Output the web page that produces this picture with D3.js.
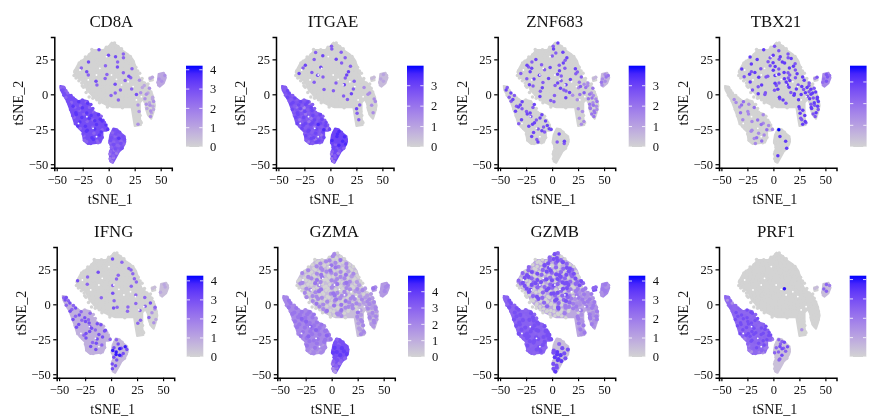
<!DOCTYPE html>
<html><head><meta charset="utf-8">
<script src="https://cdn.jsdelivr.net/npm/d3@7"></script>
<style>html,body{margin:0;background:#fff}svg{display:block;filter:blur(0.4px)}text{font-family:"Liberation Serif",serif;fill:#111}</style>
</head><body><svg id="c" width="874" height="417"></svg>
<script>
// Cell positions estimated by eye from the reference: one y per row and the x values of that row.
const cellY = [36,34,31.5,29,26.5,24,21.5,19,16.5,14,11.5,9,6.5,4,1.5,-1,-3.5,-6,-8.5,-11,-13.5,-16,-18.5,-21,
  14,11.5,9,6.5,
  5,2.5,0,-2.5,-5,-7.5,-10,-12.5,-15,-17.5,-20,-22.5,-25,-27.5,-30,-32.5,-34.5,
  -25.5,-28,-30.5,-33,-35.5,-38,-40.5,-43,-45.5,-48];
const cellX = [
  [2.4,5.6],[-2.3,1.1,4.6,8.9],[-16.2,-12.6,-9.3,-5.4,-2.1,1.4,5.2,8.4,12.3],
  [-18.6,-14.2,-10.9,-7.1,-3.8,-0.2,3.6,7.2,10.4,14.1,17.3],
  [-22.4,-17.2,-14.4,-10.3,-7.3,-3.1,0.2,3.8,6.6,10.7,14.2,17.1,20.8],
  [-26.2,-22.6,-19.4,-15.6,-12.4,-8.9,-5.1,-1.4,2.1,5.6,8.6,12.6,16.1,19.2,23.2],
  [-28.3,-24.1,-21.2,-17.1,-14.2,-10.1,-7.4,-3.1,-0.3,3.9,6.9,10.8,13.7,17.9,20.9,24.6],
  [-30.4,-26.3,-22.6,-19.6,-15.8,-12.1,-9.2,-5.3,-1.9,1.7,5.2,8.4,12.3,15.4,19.3,22.4,26.1],
  [-32.2,-28.1,-24.6,-21.1,-17.8,-14.1,-10.6,-7.2,-3.6,-0.1,3.4,7.1,10.3,14.1,17.4,21.1,24.3,27.9],
  [-33.3,-30.1,-26.4,-22.9,-19.6,-15.9,-12.2,-8.9,-5.4,-1.7,1.6,5.3,8.8,12.4,15.7,19.4,22.8,26.4,29.8],
  [-31.4,-28.1,-24.3,-20.7,-17.4,-14.1,-10.3,-7.1,-3.4,0.1,3.7,7.2,10.6,14.3,17.6,21.2,24.7,28.1,32.1],
  [-28.6,-25.9,-22.3,-18.8,-15.6,-12.2,-8.8,-5.3,-1.7,1.6,5.4,8.7,12.3,15.8,19.3,22.9,26.2,29.6,34.4],
  [-25.4,-21.8,-18.3,-14.6,-11.3,-7.8,-4.2,-0.7,2.9,6.2,9.8,13.4,16.7,20.3,23.8,27.3,30.8,34.2,37.8],
  [-24.2,-20.1,-16.4,-13.1,-9.4,-6.1,-2.6,1.1,4.3,8.1,11.3,15.1,18.4,22.1,25.4,29.1,32.4,36.1,39.2],
  [-21.7,-18.2,-14.6,-11.3,-7.7,-4.3,-0.6,2.9,6.3,9.8,13.4,16.8,20.2,23.8,27.2,30.8,34.3,37.8,40.7],
  [-18.8,-15.3,-11.7,-8.2,-4.8,-1.1,2.3,5.8,9.2,12.7,16.2,19.8,23.3,26.7,32.8,36.2,39.7,42.3],
  [-15.2,-11.4,-8.1,-4.6,-1.3,2.4,6.1,9.3,13.2,16.4,20.3,24.2,27.8,34.9,38.4,42.1],
  [-8.8,-5.3,-2.2,1.8,5.2,8.3,12.1,15.8,25.2,36.2,39.3,43.2],[-1.2,2.7,6.2,9.3,13.2,24.6,28.2,36.4,39.7,42.6],
  [25.2,28.3,36.8,40.4,43.1],[25.7,29.2,38.2,41.1],[26.3,30.2,40.2],[27.3,30.6],[28.2,31.3],
  [51,54],[40,42,48.5,52],[47.5,51],[48],
  [-45.6,-43.1],[-44.2,-41.1],[-43.1,-39.6,-36.2],[-41.3,-37.7,-34.1],[-39.4,-35.9,-32.4,-28.8,-25.3,-21.6],
  [-37.8,-34.2,-30.6,-27.1,-23.6,-20.2,-17.1],[-36.6,-32.4,-28.9,-25.3,-21.8,-18.4,-15.2],[-35.2,-31.6,-28.1,-24.6,-21.1,-17.6,-14.2],
  [-34.6,-31.1,-27.4,-23.9,-20.4,-16.9,-13.3,-9.8,-7.2],[-33.3,-29.4,-25.8,-22.1,-18.7,-15.1,-11.6,-8.1,-5.4],
  [-32.1,-27.7,-24.1,-20.6,-16.9,-13.4,-9.8,-6.3,-4.1],[-29.8,-26.1,-22.4,-18.8,-15.3,-11.7,-8.2,-4.6,-2.6],
  [-27.3,-24.1,-20.6,-17.1,-13.4,-9.8,-6.3,-2.8,-0.9],[-24.7,-21.4,-17.8,-14.2,-10.7,-7.2],[-23.8,-19.6,-16.1,-12.4,-8.9,-6.2],
  [-23.2,-18.4,-14.7,-11.2,-7.8],[-21.2,-17.3,-13.6,-10.2],
  [5.2,8.3],[3.6,6.8,10.6],[2.8,6.3,9.8,13.6],[1.6,4.9,8.3,11.8,15.2],[1.2,4.8,8.2,11.7,14.6],[2.6,6.2,9.7,12.8],[1.8,5.4,8.9],[1.1,4.3,7.6],[1.3,4.6],[3.1]
];
// Small hand-set vertical offsets per cell, so the rows do not read as a lattice.
const cellYNudge = "47 3615 726148359 28516073942 5172938460317 361807254916372 8251637094283561 14739260581734926 607318295746103825 2816493705261840739 5930271846093516284 7148362950174826391 3620581947362051748 9154728036195472836 4807361925840173625 162839507416283950 7350186294731685 481726395048 2695038174 73815 4926 085 61 37 52 4728 36 5 34 75 281 604 519382 7042695 1836074 6295183 370814962 928461730 051739284 463908157 782150364 195327 640281 38519 7264 50 738 2615 40927 83164 5092 374 618 25 4";
// Expression read by eye per cell: one digit per cell (half units), rows separated by spaces.
const CD8A = "00 0000 006000000 00000600050 0000000060500 006000000050000 0000000500000000 05000000000600050 000600000000050000 0000500005000006000 0000000050000005000 0000060000000500030 0000500006000000020 0000000000500500203 0000000050000003020 000000500000060302 0000000500000302 000000000323 0000003032 00232 0302 003 00 30 23 0032 23 2 55 65 656 566 656765 6765676 6567656 6756765 676567675 567675676 676567676 767657667 567676567 676567 567676 56756 5665 66 566 6576 65656 56565 5656 545 454 44 4";
const ITGAE = "00 0500 000005000 05000000500 0000600000500 000500000600000 0600000000050000 05000060000000500 000050000000006000 0600006000000060000 0000000500000500000 0000500000500005000 0000000000060000000 0000050000000500300 0000000500006000030 000000000500000300 0000000005000003 000000000003 0000005030 60000 5003 000 50 00 20 0020 02 0 55 56 565 656 565656 6565635 6463565 5646565 565456565 646546565 656465656 565647565 656565746 565656 656546 56465 4565 67 676 6767 76676 65767 6565 565 454 45 4";
const ZNF683 = "06 0500 000006000 00000050600 0000005000600 005600000005000 0600050000560000 00560000600050060 000600050006000050 0500006000065000500 0050600060000060050 0000005000650000403 0650000050060005330 0000600006500030404 0005000000560005030 006000500003040430 0000500060030443 000500000434 0000000343 30443 0344 304 03 30 34 0034 43 3 05 60 065 560 500600 0560006 0650050 6005600 000650060 060005600 500060060 006600560 000056066 006005 060000 00500 0060 00 060 0000 05060 00050 0000 000 000 00 0";
const TBX21 = "00 0500 006000500 00000600050 6000050060560 000600500560000 0060000560060050 60000500065006600 000560000600650500 0006000050660050600 0500060500006505060 0060000006506600065 0005600050060056050 0500000560060605665 0060500000056006566 000500060006065606 0000005600060656 000000500566 0000060656 56605 6056 565 56 65 54 0545 45 0 00 00 000 030 030400 0040300 0300040 0403000 000300030 030004000 000300300 000004030 003000403 030300 004030 03040 0300 80 000 0600 00060 00000 0006 000 060 00 0";
const IFNG = "00 0000 000006000 00000000500 0000000000050 000060000000050 0000000000500050 00500000005000050 600000000000000050 0005000000500005000 0000000000000000000 0000000006000000000 0000000000000050000 0000500000000000500 0000000500000500060 000000050050005005 0000060000005003 000000050030 0000000500 05002 5003 000 00 00 20 0002 20 0 56 65 565 056 600500 0560050 6006500 0056600 060050660 600065006 006600060 050006600 060060005 005600 060050 00600 0000 50 060 6068 88806 08860 6050 060 660 60 0";
const GZMA = "40 0400 000440050 00400540040 0044000540400 040004450040300 4000450044005040 00440050004440300 040005400440054030 0400054000450440030 0044005004000440403 0400450005404003340 0044000450440403033 4004400054004404343 0450040400540403434 004400505044033434 0045000540403434 040044005343 0044043434 34343 3434 343 34 43 34 5434 34 3 44 45 454 545 454545 5454545 4565454 5456545 454565454 545456545 454545454 546545465 454554545 454545 545434 43434 3434 67 767 8787 78787 87878 7676 676 565 45 3";
const GZMB = "65 5060 000056650 00066050650 5000660505660 056005660050650 5600650056606560 06650006506650560 560056650605665056 0560665005650660565 0066050565006640404 0060005606650404343 0056000650564043434 0006500060554344343 0000500650654334434 000050060440434343 0000006040434343 000000400434 0000043434 43434 4343 343 43 34 43 5543 34 3 50 56 565 656 566050 5665065 6505665 5660566 665056656 566566056 606656566 566065666 065665066 566056 650665 50665 0550 00 050 0060 67006 67760 7706 077 660 66 7";
const PRF1 = "00 0000 000000000 00000000000 0000000000000 000000000000000 0000000000000000 00000000000000000 000000000000000000 0000000000000000000 0000000000008000000 0000000000000000000 0000000000000000000 0000000000000000000 0000000000000000000 000000000000000000 0000000000000000 000000000000 0000000000 00000 0000 000 30 00 54 0050 05 0 00 30 030 505 565066 5665065 6566556 5606665 665665056 566065665 656665606 566656566 456056654 565604 406564 45054 3043 55 056 5656 05650 50600 0500 050 000 00 0";

// Cluster silhouettes, in tSNE units.
const clusterUpper = [[3,37],[8,35],[11,33],[14,31],[18,29],[22,26],[24,24],[26,19],[29,12],[33,9],[37,7],[39,4],[42,0],[43.5,-4],[44.5,-8],[43,-13],[41,-17.5],[38,-15],[36,-11],[35.5,-7],[33,-3.5],[30,-6],[30,-16],[31,-22],[25,-22.6],[23.5,-16],[22,-9],[15.5,-9.3],[4,-9.3],[-2,-7.6],[-8.5,-5.3],[-15,-1.7],[-20.6,3],[-24.4,9],[-31,12.6],[-33.4,16],[-29,22],[-20.6,27],[-15,31.7],[-5,31.7],[1,35]];
const clusterSmall = [[48,14.5],[53,15.5],[55,12],[53,8],[49,5.5],[47,8]];
const clusterTiny = [[39,12],[42,12.5],[42.5,10],[39.5,9.5]];
const clusterLeft = [[-46.5,6],[-43,5.5],[-40,1],[-35,-2],[-29,-5],[-25,-4],[-20,-5],[-18,-9],[-14,-13],[-9,-14],[-6.5,-19],[-4,-22],[-0.5,-24.5],[-2,-26],[-6,-26],[-6,-31],[-8,-34.5],[-20,-35.5],[-24,-33],[-25,-27],[-29,-24],[-33,-20],[-35,-15],[-38,-9],[-40,-5],[-43,-1],[-46,3]];
const clusterMid = [[4.5,-24.5],[8,-25],[11,-27.5],[15.5,-30],[16,-34],[13,-39],[10,-41],[7,-45],[4,-49],[1.5,-48],[1,-42],[2.5,-38],[0.5,-34],[1.5,-29]];
const clusters = [clusterUpper,clusterSmall,clusterTiny,clusterLeft,clusterMid];
// Background expression of each cluster per gene, same order as clusters.
const clusterBase = [[0,1,0,3,2.8],[0,0.5,0,2.7,3],[0,0.6,0,0,0],[0,1.5,0,0,0],[0,0.5,0,0.8,0.6],[0.6,1.5,1.5,2,3.5],[1,1.8,3,2.6,0.5],[0,0.5,0,2.4,0.4]];
// Which cluster each row of cells belongs to (upper, small, left, mid by last row index).
const rowClusterEnds = [[24,0],[28,1],[45,3],[55,4]];
// White flecks visible inside the clusters.
const fleckX = [2.7,7.5,-19.6,18.7,-8.5,-27.6,23.5,31.5,26.7,12.3,-2,-11.7,-29,-15,-21,-11.7];
const fleckY = [13.8,10.7,10.3,9,18.6,17.4,5.5,-1.7,-4,6.7,27,13.8,-20.8,-24.3,-16,-30.3];

const genes = ["CD8A","ITGAE","ZNF683","TBX21","IFNG","GZMA","GZMB","PRF1"];
const exprRows = [CD8A,ITGAE,ZNF683,TBX21,IFNG,GZMA,GZMB,PRF1];
const maxExpr = [4.21,3.98,3.98,3.75,4.27,4.98,4.28,4.2];
const dotRadius = [1.75,1.75,1.75,1.75,1.75,2.1,2.1,1.75];
const legendTicks = [[0,1,2,3,4],[0,1,2,3],[0,1,2,3],[0,1,2,3],[0,1,2,3,4],[0,1,2,3,4],[0,1,2,3,4],[0,1,2,3,4]];
const showLegendLabels = [true,true,true,false,true,true,true,false];
const xTicks = [-50,-25,0,25,50];
const yTicks = [-50,-25,0,25];
const axisLeftPx = [54.3,276,497.7,719,56.7,277.3,497.7,719];
const legendLeftPx = [186,407,628.7,850,186.7,408,628.7,849.7];
const rowOffsetPx = [0,0,0,0,210,210,210,210];

const svg = d3.select("#c");
const defs = svg.append("defs");
const low = "#d3d3d3", high = "#0000ff";
const nudgeRows = cellYNudge.split(" ");

genes.forEach((gene,i)=>{
  const g = svg.append("g").attr("transform",`translate(${axisLeftPx[i]},${rowOffsetPx[i]})`);
  const x = d3.scaleLinear().domain([-52.3,60.7]).range([0,117.5]);
  const y = d3.scaleLinear().domain([-52.5,41]).range([167.7,37]);
  const color = d3.scaleLinear().domain([0,maxExpr[i]]).range([low,high]).interpolate(d3.interpolateLab).clamp(true);
  const rows = exprRows[i].split(" ");
  const line = d3.line().x(d=>x(d[0])).y(d=>y(d[1])).curve(d3.curveLinearClosed);
  g.append("g").selectAll("path").data(clusters).join("path")
    .attr("d",d=>line(d))
    .attr("fill",(d,k)=>color(clusterBase[i][k]))
    .attr("stroke",(d,k)=>color(clusterBase[i][k]))
    .attr("stroke-width",2).attr("stroke-linejoin","round");
  const cells = [];
  cellX.forEach((xs,r)=>xs.forEach((cx,c)=>{
    const nd = (nudgeRows[r]||"")[c];
    const dy = nd===undefined ? 0 : (+nd-4.5)*0.25;
    const v = +((rows[r]||"")[c]||0)*0.5;
    const k = rowClusterEnds.find(e=>r<e[0])[1];
    cells.push({x:cx,y:cellY[r]+dy,v: v>0 ? v : (k===0 ? 0 : clusterBase[i][k])});
  }));
  cells.sort((a,b)=>a.v-b.v);
  g.append("g").selectAll("circle").data(cells).join("circle")
    .attr("cx",d=>x(d.x)).attr("cy",d=>y(d.y)).attr("r",d=>d.v>0?dotRadius[i]:1.75).attr("fill",d=>color(d.v));
  g.append("g").selectAll("circle").data(d3.zip(fleckX,fleckY)).join("circle")
    .attr("cx",d=>x(d[0])).attr("cy",d=>y(d[1])).attr("r",0.9).attr("fill","#fff");

  const ax = g.append("g").attr("transform","translate(0,167.7)")
    .call(d3.axisBottom(x).tickValues(xTicks).tickSize(3.5).tickPadding(3.5));
  const ay = g.append("g").call(d3.axisLeft(y).tickValues(yTicks).tickSize(3.5).tickPadding(2.5));
  [ax,ay].forEach(a=>{
    a.selectAll("path").attr("stroke","#000").attr("stroke-width",1.5);
    a.selectAll("line").attr("stroke","#000").attr("stroke-width",1.2);
    a.selectAll("text").style("font-size","12.5px").style("font-family","'Liberation Serif',serif").attr("fill","#111");
  });
  g.append("text").attr("x",57).attr("y",27).attr("text-anchor","middle").style("font-size","16.8px").text(gene);
  g.append("text").attr("x",56).attr("y",204).attr("text-anchor","middle").style("font-size","14.2px").text("tSNE_1");
  g.append("text").attr("transform",`translate(-31,103) rotate(-90)`).attr("text-anchor","middle").style("font-size","14.2px").text("tSNE_2");

  // colour bar
  const lx = legendLeftPx[i]-axisLeftPx[i], lw = 16.6;
  const ly = d3.scaleLinear().domain([0,maxExpr[i]]).range([147,65.7]);
  const id = "grad"+i;
  const gr = defs.append("linearGradient").attr("id",id).attr("x1",0).attr("y1",1).attr("x2",0).attr("y2",0);
  d3.range(0,1.0001,0.1).forEach(t=>gr.append("stop").attr("offset",t).attr("stop-color",color(t*maxExpr[i])));
  g.append("rect").attr("x",lx).attr("y",65.7).attr("width",lw).attr("height",81.3).attr("fill",`url(#${id})`);
  legendTicks[i].forEach(t=>{
    [[lx,lx+lw/5],[lx+lw*4/5,lx+lw]].forEach(([a,b])=>{
      g.append("line").attr("x1",a).attr("x2",b).attr("y1",ly(t)).attr("y2",ly(t)).attr("stroke","#fff").attr("stroke-width",0.8);
    });
    if(showLegendLabels[i]) g.append("text").attr("x",lx+lw+7.5).attr("y",ly(t)+4.2).style("font-size","12.5px").text(t);
  });
});
</script></body></html>
